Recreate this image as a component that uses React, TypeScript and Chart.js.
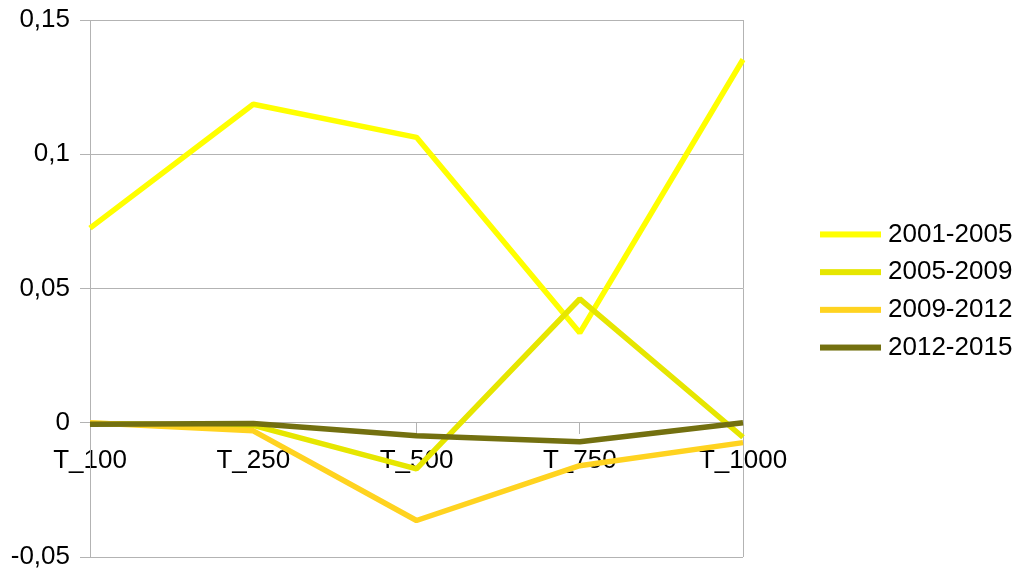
import React, { useEffect, useRef } from "react";
import { Chart, registerables } from "chart.js";

Chart.register(...registerables);

// Categories along the horizontal axis
const categories = ["T_100", "T_250", "T_500", "T_750", "T_1000"];

// Series names
const seriesNames = ["2001-2005", "2005-2009", "2009-2012", "2012-2015"];

// Series values per category
const s2001_2005 = [0.0725, 0.1186, 0.1063, 0.0335, 0.1353];
const s2005_2009 = [-0.0003, -0.001, -0.0172, 0.0461, -0.0054];
const s2009_2012 = [0.0, -0.003, -0.0364, -0.016, -0.0074];
const s2012_2015 = [-0.0006, -0.0003, -0.0048, -0.0071, 0.0];

// Value axis range and step
const yMin = -0.05;
const yMax = 0.15;
const yStep = 0.05;

const seriesColors = ["#ffff00", "#e6e600", "#ffd320", "#737010"];
const seriesValues = [s2001_2005, s2005_2009, s2009_2012, s2012_2015];

const FONT = "'Liberation Sans', Arial, sans-serif";
const GRID = "#b3b3b3";

const formatTick = (v: number) => {
  const r = Math.round(v * 1000) / 1000;
  return String(r).replace(".", ",");
};

// Legend drawn to the right of the plot: swatch line + label per series
const sideLegend = {
  id: "sideLegend",
  afterDraw(chart: any) {
    const { ctx, chartArea } = chart;
    const n = chart.data.datasets.length;
    const rowGap = 37.7;
    const centerY = (chartArea.top + chartArea.bottom) / 2 + 2.5;
    const firstY = centerY - ((n - 1) * rowGap) / 2;
    const x0 = chartArea.right + 77;
    ctx.save();
    ctx.font = `26px ${FONT}`;
    ctx.textBaseline = "middle";
    ctx.textAlign = "left";
    chart.data.datasets.forEach((ds: any, i: number) => {
      const y = firstY + i * rowGap;
      ctx.fillStyle = ds.borderColor;
      ctx.fillRect(x0, y - 3, 61, 6);
      ctx.fillStyle = "#000";
      ctx.fillText(ds.label, x0 + 68, y);
    });
    ctx.restore();
  },
};

const noScalePadding = (scale: any) => {
  scale.paddingTop = 0;
  scale.paddingBottom = 0;
  scale.paddingLeft = 0;
  scale.paddingRight = 0;
};

export default function App() {
  const canvasRef = useRef<HTMLCanvasElement | null>(null);

  useEffect(() => {
    const canvas = canvasRef.current;
    if (!canvas) return;
    const n = seriesNames.length;
    const chart = new Chart(canvas, {
      type: "line",
      data: {
        labels: categories,
        datasets: seriesNames.map((name, i) => ({
          label: name,
          data: seriesValues[i],
          borderColor: seriesColors[i],
          backgroundColor: seriesColors[i],
          borderWidth: 5.5,
          pointRadius: 0,
          pointHoverRadius: 0,
          tension: 0,
          borderJoinStyle: "bevel" as const,
          borderCapStyle: "butt" as const,
          fill: false,
          order: n - 1 - i,
        })),
      },
      options: {
        responsive: false,
        animation: false,
        devicePixelRatio: 1,
        events: [],
        layout: {
          padding: { top: 20, bottom: 14, left: 0, right: 276 },
        },
        plugins: {
          legend: { display: false },
          tooltip: { enabled: false },
          title: { display: false },
        },
        scales: {
          x: {
            type: "category",
            position: { y: 0 },
            offset: false,
            afterFit: noScalePadding,
            grid: {
              color: (c: any) =>
                c.index === 0 || c.index === categories.length - 1 ? GRID : "rgba(0,0,0,0)",
              tickColor: GRID,
              tickLength: 11,
              lineWidth: 1,
            },
            border: { display: true, color: GRID, width: 1 },
            ticks: {
              color: "#000",
              font: { family: FONT, size: 26 },
              padding: 11,
              maxRotation: 0,
              autoSkip: false,
            },
          },
          y: {
            type: "linear",
            min: yMin,
            max: yMax,
            afterFit(scale: any) {
              scale.width = 90;
              noScalePadding(scale);
            },
            grid: {
              color: GRID,
              tickColor: GRID,
              tickLength: 10,
              lineWidth: 1,
            },
            border: { display: true, color: GRID, width: 1 },
            ticks: {
              stepSize: yStep,
              color: "#000",
              font: { family: FONT, size: 26 },
              padding: 10,
              callback: (v: any) => formatTick(Number(v)),
            },
          },
        },
      },
      plugins: [sideLegend],
    });
    return () => chart.destroy();
  }, []);

  return (
    <div style={{ position: "absolute", left: 0, top: 0, width: 1019, height: 571, background: "#fff" }}>
      <canvas ref={canvasRef} width={1019} height={571} style={{ display: "block" }} />
    </div>
  );
}
